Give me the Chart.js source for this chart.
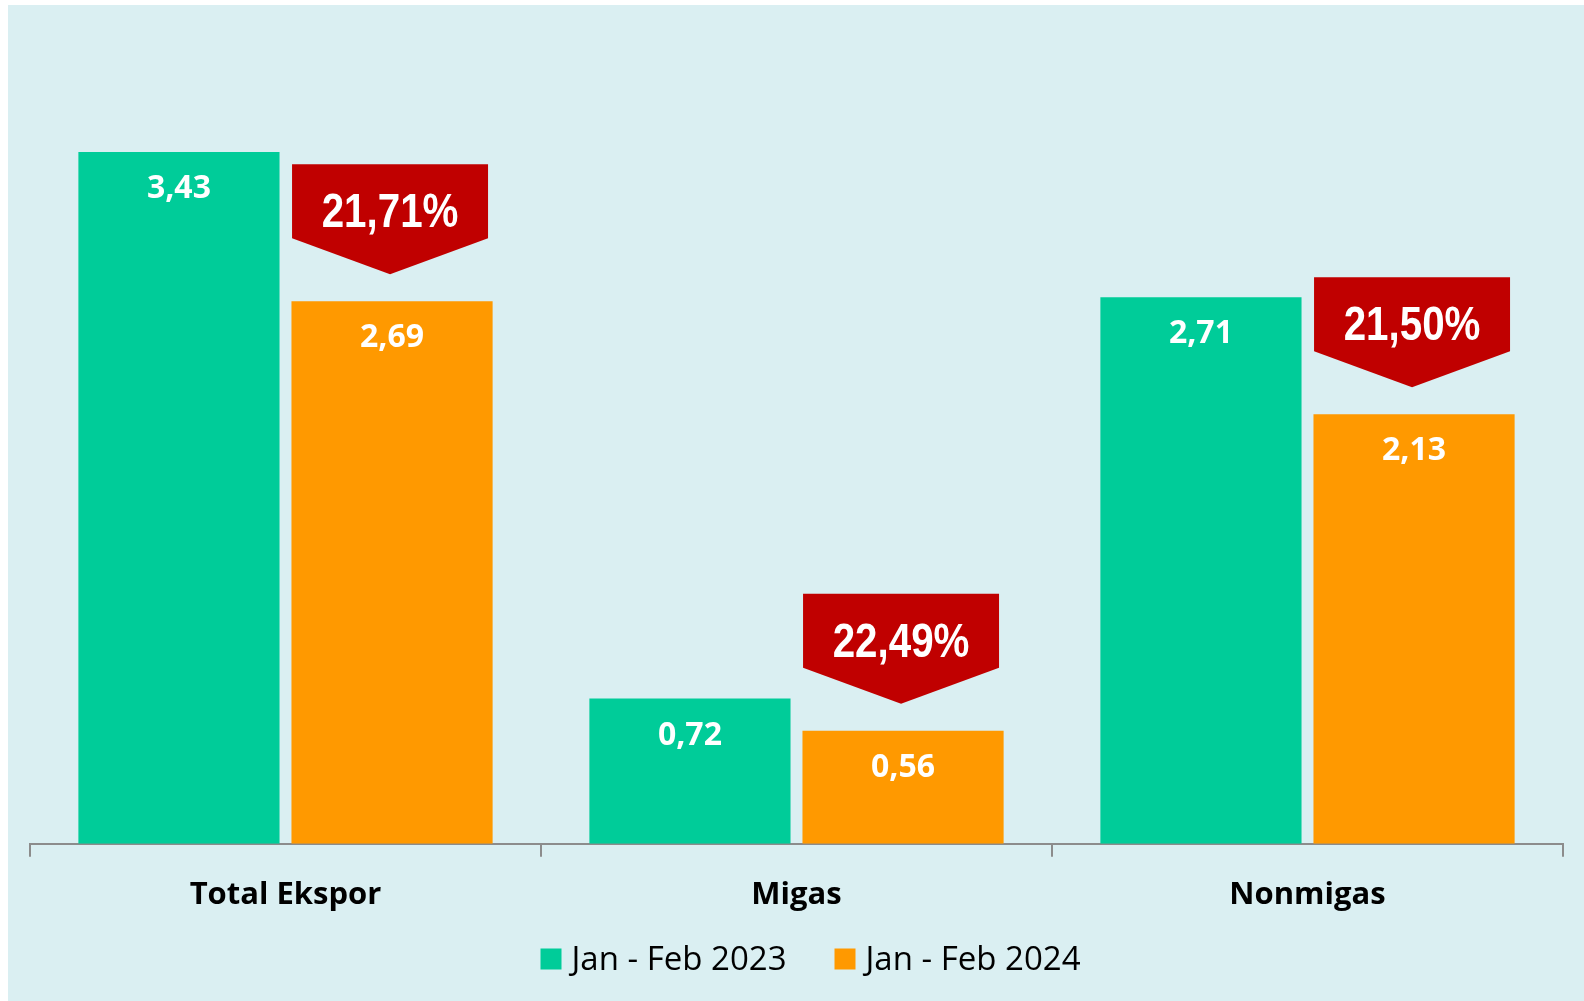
<!DOCTYPE html>
<html>
<head>
<meta charset="utf-8">
<script src="https://cdn.jsdelivr.net/npm/chart.js@4.4.1/dist/chart.umd.min.js"></script>
<style>
  html, body { margin: 0; padding: 0; background: #ffffff; }
  #wrap { width: 1584px; height: 1001px; position: relative; }
</style>
</head>
<body>
<div id="wrap"><canvas id="c" width="1584" height="1001"></canvas></div>
<script>
const categories = ['Total Ekspor', 'Migas', 'Nonmigas'];
const seriesNames = ['Jan - Feb 2023', 'Jan - Feb 2024'];
const values2023 = [3.43, 0.72, 2.71];
const values2024 = [2.69, 0.56, 2.13];
const changePct = [21.71, 22.49, 21.50];

const GREEN = '#00CC99';
const ORANGE = '#FF9900';
const RED = '#C00000';
const BG = '#DAEFF2';
const AXIS = '#8C8C8C';
const seriesColors = [GREEN, ORANGE];

const fmt = v => v.toFixed(2).replace('.', ',');

const bgPlugin = {
  id: 'bg',
  beforeDraw(chart) {
    const ctx = chart.ctx;
    ctx.save();
    ctx.fillStyle = '#ffffff';
    ctx.fillRect(0, 0, chart.width, chart.height);
    ctx.fillStyle = BG;
    ctx.fillRect(8, 5, chart.width - 8, chart.height - 5);
    ctx.restore();
  }
};

const labelPlugin = {
  id: 'labels',
  afterDatasetsDraw(chart) {
    const ctx = chart.ctx;
    ctx.save();
    // value labels inside bars
    ctx.fillStyle = '#ffffff';
    ctx.font = 'bold 32px "Open Sans", sans-serif';
    ctx.textAlign = 'center';
    ctx.textBaseline = 'middle';
    chart.data.datasets.forEach((ds, di) => {
      const meta = chart.getDatasetMeta(di);
      meta.data.forEach((bar, i) => {
        ctx.fillText(fmt(ds.data[i]), bar.x, bar.y + 37);
      });
    });
    // callouts above the 2024 bars
    const meta2 = chart.getDatasetMeta(1);
    meta2.data.forEach((bar, i) => {
      const w = 196, rectH = 74, arrowH = 36;
      const cx = bar.x - 2;
      const tip = bar.y - 27;
      const top = tip - arrowH - rectH;
      ctx.beginPath();
      ctx.moveTo(cx - w / 2, top);
      ctx.lineTo(cx + w / 2, top);
      ctx.lineTo(cx + w / 2, top + rectH);
      ctx.lineTo(cx, tip);
      ctx.lineTo(cx - w / 2, top + rectH);
      ctx.closePath();
      ctx.fillStyle = RED;
      ctx.fill();
      ctx.save();
      ctx.translate(cx, top + 50);
      ctx.scale(0.84, 1);
      ctx.fillStyle = '#ffffff';
      ctx.font = 'bold 48px "Liberation Sans", Arial, sans-serif';
      ctx.textAlign = 'center';
      ctx.textBaseline = 'middle';
      ctx.fillText(fmt(changePct[i]) + '%', 0, 0);
      ctx.restore();
    });
    ctx.restore();
  },
  afterDraw(chart) {
    // legend (series names from data arrays)
    const ctx = chart.ctx;
    ctx.save();
    ctx.font = '33px "Open Sans", sans-serif';
    ctx.textBaseline = 'middle';
    ctx.textAlign = 'left';
    const box = 21, gapText = 10, gapItem = 48;
    const widths = seriesNames.map(n => ctx.measureText(n).width);
    const total = widths.reduce((a, w) => a + box + gapText + w, 0) + gapItem * (seriesNames.length - 1);
    const center = (chart.chartArea.left + chart.chartArea.right) / 2 + 14;
    let x = center - total / 2;
    const cy = 961;
    seriesNames.forEach((n, i) => {
      ctx.fillStyle = seriesColors[i];
      ctx.fillRect(x, cy - 2 - box / 2, box, box);
      ctx.fillStyle = '#000000';
      ctx.fillText(n, x + box + gapText, cy);
      x += box + gapText + widths[i] + gapItem;
    });
    ctx.restore();
  }
};

new Chart(document.getElementById('c'), {
  type: 'bar',
  data: {
    labels: categories,
    datasets: [
      { label: seriesNames[0], data: values2023, backgroundColor: GREEN, borderWidth: 0,
        categoryPercentage: 0.834, barPercentage: 0.944 },
      { label: seriesNames[1], data: values2024, backgroundColor: ORANGE, borderWidth: 0,
        categoryPercentage: 0.834, barPercentage: 0.944 }
    ]
  },
  options: {
    responsive: false,
    animation: false,
    devicePixelRatio: 1,
    layout: { padding: { top: 37, left: 30, right: 21, bottom: 67 } },
    plugins: {
      legend: { display: false },
      tooltip: { enabled: false }
    },
    scales: {
      x: {
        grid: { display: true, drawOnChartArea: false, drawTicks: true, tickLength: 13,
                color: AXIS, lineWidth: 2, offset: true },
        border: { display: true, color: AXIS, width: 2 },
        ticks: { color: '#000000', padding: 20,
                 font: { family: '"Open Sans", sans-serif', size: 31, weight: 'bold' } }
      },
      y: { display: false, min: 0, max: 4 }
    }
  },
  plugins: [bgPlugin, labelPlugin]
});
</script>
</body>
</html>
